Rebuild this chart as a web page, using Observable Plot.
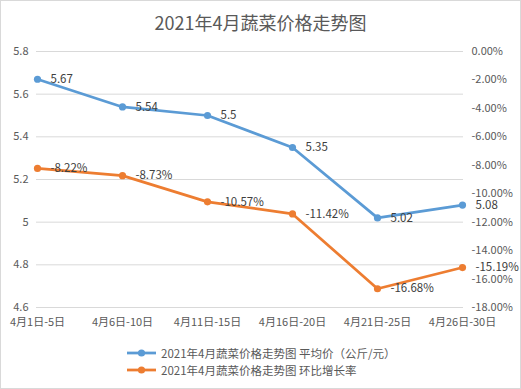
<!DOCTYPE html>
<html>
<head>
<meta charset="utf-8">
<script src="https://cdn.jsdelivr.net/npm/d3@7"></script>
<script src="https://cdn.jsdelivr.net/npm/@observablehq/plot@0.6"></script>
<style>
  html, body { margin: 0; padding: 0; background: #fff; }
  #box { position: relative; width: 521px; height: 389px; box-sizing: border-box; border: 1px solid #d9d9d9; background: #fff; font-family: 'Noto Sans CJK SC', sans-serif; color: #595959; overflow: hidden; }
  #title { position: absolute; left: 0; top: 0; width: 519px; height: 42px; line-height: 42px; text-align: center; font-size: 18px; color: #595959; }
  #chart { position: absolute; left: 0; top: 40px; }
  #chart svg { overflow: visible; }
  #legend { position: absolute; left: 126px; top: 343px; font-size: 11.5px; color: #595959; }
  .row { display: flex; align-items: center; height: 17px; white-space: nowrap; }
  .row svg { margin-right: 5px; }
</style>
</head>
<body>
<div id="box">
  <div id="title">2021年4月蔬菜价格走势图</div>
  <div id="chart"></div>
  <div id="legend"></div>
</div>
<script>
const categories = ["4月1日-5日", "4月6日-10日", "4月11日-15日", "4月16日-20日", "4月21日-25日", "4月26日-30日"];
const priceValues = [5.67, 5.54, 5.5, 5.35, 5.02, 5.08];
const rateValues = [-8.22, -8.73, -10.57, -11.42, -16.68, -15.19];
const priceTicks = [4.6, 4.8, 5.0, 5.2, 5.4, 5.6, 5.8];
const rateTicks = [0, -2, -4, -6, -8, -10, -12, -14, -16, -18];
const seriesNames = ["2021年4月蔬菜价格走势图 平均价（公斤/元）", "2021年4月蔬菜价格走势图 环比增长率"];
const colors = ["#5B9BD5", "#ED7D31"];

const yMin = 4.6, yMax = 5.8, rMin = -18, rMax = 0;
const toY = r => yMin + (r - rMin) / (rMax - rMin) * (yMax - yMin);
const fromY = y => rMin + (y - yMin) / (yMax - yMin) * (rMax - rMin);

const priceData = categories.map((c, i) => ({cat: c, v: priceValues[i]}));
const rateData = categories.map((c, i) => ({cat: c, v: rateValues[i], y: toY(rateValues[i])}));

const plot = Plot.plot({
  width: 519,
  height: 295,
  marginTop: 10,
  marginBottom: 29,
  marginLeft: 35,
  marginRight: 57,
  style: {fontFamily: "'Noto Sans CJK SC', sans-serif", fontSize: "11px", color: "#595959", background: "transparent"},
  x: {type: "point", domain: categories, padding: 0, label: null},
  y: {domain: [yMin, yMax], label: null},
  marks: [
    Plot.gridY(priceTicks, {stroke: "#d9d9d9", strokeOpacity: 1, strokeWidth: 1}),
    Plot.axisY(priceTicks, {anchor: "left", tickSize: 0, tickPadding: 8, label: null, tickFormat: d => String(+d.toFixed(1)), fill: "#595959"}),
    Plot.axisY(rateTicks.map(toY), {anchor: "right", tickSize: 0, tickPadding: 8, label: null, textAnchor: "start", tickFormat: d => {
      const r = Math.round(fromY(d));
      return (r === 0 ? 0 : r).toFixed(2) + "%";
    }, fill: "#595959"}),
    Plot.axisX({anchor: "bottom", tickSize: 0, tickPadding: 11, label: null, fill: "#595959"}),
    Plot.line(priceData, {x: "cat", y: "v", stroke: colors[0], strokeWidth: 2.75}),
    Plot.dot(priceData, {x: "cat", y: "v", r: 3.6, fill: colors[0]}),
    Plot.line(rateData, {x: "cat", y: "y", stroke: colors[1], strokeWidth: 2.75}),
    Plot.dot(rateData, {x: "cat", y: "y", r: 3.6, fill: colors[1]}),
    Plot.text(priceData, {x: "cat", y: "v", text: d => String(d.v), dx: 13, textAnchor: "start", fill: "#404040", fontSize: 11.5}),
    Plot.text(rateData, {x: "cat", y: "y", text: d => d.v.toFixed(2) + "%", dx: 13, textAnchor: "start", fill: "#404040", fontSize: 11.5})
  ]
});
document.getElementById("chart").appendChild(plot);

const legend = document.getElementById("legend");
seriesNames.forEach((name, i) => {
  const row = document.createElement("div");
  row.className = "row";
  row.innerHTML = `<svg width="29" height="10"><line x1="0" y1="5" x2="29" y2="5" stroke="${colors[i]}" stroke-width="2.75"/><circle cx="14.5" cy="5" r="3.6" fill="${colors[i]}"/></svg><span>${name}</span>`;
  legend.appendChild(row);
});
</script>
</body>
</html>
